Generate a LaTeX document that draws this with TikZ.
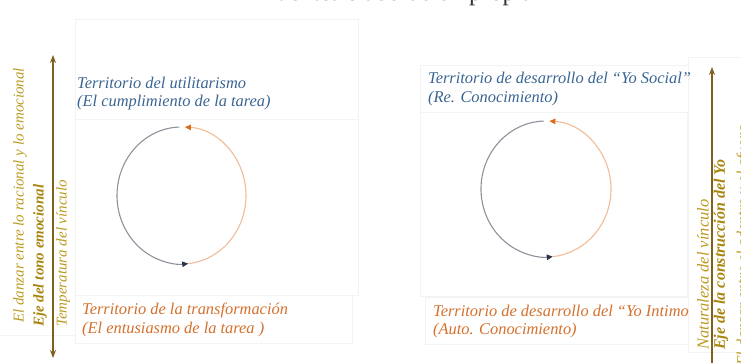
\documentclass[tikz,border=0pt]{standalone}
\usepackage{fontspec}
\setmainfont{Liberation Serif}
\usetikzlibrary{arrows.meta}
\definecolor{blu}{HTML}{3A6592}
\definecolor{org}{HTML}{D4702C}
\definecolor{gold}{HTML}{BC9A1E}
\definecolor{golddk}{HTML}{A8860E}
\definecolor{axisc}{HTML}{80601E}
\definecolor{arcg}{HTML}{8C939C}
\definecolor{arco}{HTML}{F2BC98}
\definecolor{tipo}{HTML}{E06A1C}
\definecolor{tipn}{HTML}{2B3444}
\definecolor{framec}{HTML}{F3F3F3}
\definecolor{capc}{HTML}{333333}
\begin{document}
\begin{tikzpicture}[x=1pt,y=-1pt,
  lbl/.style={inner sep=0pt,anchor=base west,font=\fontsize{16.4}{19}\selectfont\itshape},
  vlbl/.style={inner sep=0pt,anchor=west,rotate=90,font=\fontsize{15}{18}\selectfont\itshape},
  vbold/.style={vlbl,font=\fontsize{15}{18}\selectfont\bfseries\itshape},
  framebox/.style={draw=framec,line width=0.5pt},
  grayarc/.style={draw=arcg,line width=1.1pt,-{Triangle[length=6pt,width=5.5pt,color=tipn]}},
  orgarc/.style={draw=arco,line width=1.1pt,-{Triangle[length=6pt,width=5.5pt,color=tipo]}},
  axisarrow/.style={draw=axisc,line width=1.4pt}]
\useasboundingbox (0,0) rectangle (741,363);
% faint frames
\draw[framebox] (75,19) rectangle (358,119);
\draw[framebox] (75,119) rectangle (358,295);
\draw[framebox] (75,295) rectangle (352,343);
\draw[framebox] (420,65) rectangle (688,112);
\draw[framebox] (420,112) rectangle (687,296);
\draw[framebox] (425,297) rectangle (688,344);
\draw[framebox] (688,57) rectangle (745,352);
\draw[framebox] (-2,335) -- (75,335);
% clipped caption at top
\node[inner sep=0pt,anchor=base,text=capc,font=\fontsize{25}{28}\selectfont] (cap) at (398,1) {Fuente: elaboración propia};
% top-left texts
\node[lbl,text=blu] (tl1) at (77,89) {Territorio del utilitarismo};
\node[lbl,text=blu] (tl2) at (77,107) {(El cumplimiento de la tarea)};
% bottom-left texts
\node[lbl,text=org] (bl1) at (82,314) {Territorio de la transformación};
\node[lbl,text=org] (bl2) at (82,333) {(El entusiasmo de la tarea )};
% top-right texts
\node[lbl,text=blu] (tr1) at (428,84) {Territorio de desarrollo del “Yo Social”};
\node[lbl,text=blu] (tr2) at (428,103) {(Re. Conocimiento)};
% bottom-right texts
\node[lbl,text=org] (br1) at (433,316) {Territorio de desarrollo del “Yo Intimo};
\node[lbl,text=org] (br2) at (433,334) {(Auto. Conocimiento)};
% left circle
\coordinate (c1) at (181.5,195.5);
\draw[grayarc] ([shift={(268:64.5 and 68.5)}]c1) arc[start angle=268,end angle=84,x radius=64.5,y radius=68.5];
\draw[orgarc] ([shift={(84:64.5 and 68.5)}]c1) arc[start angle=84,end angle=-87,x radius=64.5,y radius=68.5];
% right circle
\coordinate (c2) at (546,189);
\draw[grayarc] ([shift={(268:65 and 68)}]c2) arc[start angle=268,end angle=84,x radius=65,y radius=68];
\draw[orgarc] ([shift={(84:65 and 68)}]c2) arc[start angle=84,end angle=-87,x radius=65,y radius=68];
% left axis
\coordinate (la1) at (53,55);
\coordinate (la2) at (53,358);
\draw[axisarrow,{Stealth[length=8pt,width=6pt]}-{Stealth[length=8pt,width=6pt]}] (la2) -- (la1);
\node[vlbl,text=gold] (lv1) at (20,323) {El danzar entre lo racional y lo emocional};
\node[vbold,text=golddk] (lv2) at (40,327) {Eje del tono emocional};
\node[vlbl,text=gold] (lv3) at (63,327) {Temperatura del vínculo};
% right axis
\coordinate (ra1) at (712,67);
\coordinate (ra2) at (712,370);
\draw[axisarrow,-{Stealth[length=8pt,width=6pt]}] (ra2) -- (ra1);
\node[vlbl,text=gold,font=\fontsize{16.5}{19}\selectfont\itshape] (rv1) at (703,350) {Naturaleza del vínculo};
\node[vlbl,text=golddk,font=\fontsize{16}{19}\selectfont\bfseries\itshape] (rv2) at (721,350) {Eje de la construcción del Yo};
\node[vlbl,text=gold,font=\fontsize{16}{19}\selectfont\itshape] (rv3) at (744,366) {El danzar entre el adentro y el afuera};
\end{tikzpicture}
\end{document}
